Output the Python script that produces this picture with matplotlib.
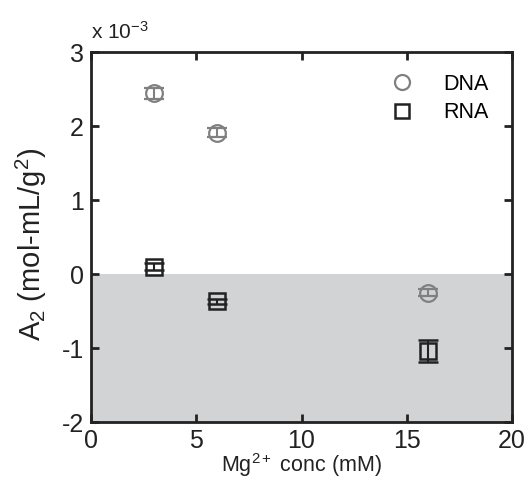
import matplotlib.pyplot as plt
import matplotlib

matplotlib.rcParams['font.family'] = ['Liberation Sans', 'DejaVu Sans']
matplotlib.rcParams['mathtext.fontset'] = 'custom'
matplotlib.rcParams['mathtext.rm'] = 'Liberation Sans'
matplotlib.rcParams['mathtext.it'] = 'Liberation Sans:italic'

# 数据 (A2 单位: 1e-3 mol-mL/g^2)
mg_conc = [3, 6, 16]
dna_a2 = [2.44, 1.91, -0.25]
dna_err = [0.08, 0.06, 0.05]
rna_a2 = [0.10, -0.37, -1.04]
rna_err = [0.05, 0.03, 0.15]

fig = plt.figure(figsize=(5.30, 4.78), dpi=100)
ax = fig.add_axes([91 / 530, 1 - 422 / 478, 421 / 530, 370 / 478])

# 负值区域灰色背景
ax.axhspan(-2, 0, color='#d1d3d4', zorder=0, lw=0)

ax.errorbar(mg_conc, dna_a2, yerr=dna_err, fmt='o', mfc='none', mec='#808080',
            ecolor='#808080', ms=12, mew=1.6, capsize=7, elinewidth=1.5, capthick=1.5,
            label='DNA', zorder=3)
ax.errorbar(mg_conc, rna_a2, yerr=rna_err, fmt='s', mfc='none', mec='#222222',
            ecolor='#222222', ms=11, mew=1.8, capsize=7, elinewidth=1.5, capthick=1.5,
            label='RNA', zorder=3)

ax.set_xlim(0, 20)
ax.set_ylim(-2, 3)
ax.set_xticks([0, 5, 10, 15, 20])
ax.set_yticks([-2, -1, 0, 1, 2, 3])
ax.set_yticklabels(['-2', '-1', '0', '1', '2', '3'])
ax.tick_params(direction='in', length=6, width=2, labelsize=18, pad=5,
               top=True, right=True, colors='#222222', labelcolor='#222222')
for s in ax.spines.values():
    s.set_linewidth(2)
    s.set_color('#222222')

ax.set_xlabel('Mg$^{2+}$ conc (mM)', fontsize=15.5, color='#222222')
ax.xaxis.label.set_va('baseline')
ax.xaxis.set_label_coords(0.5, -0.135)
ax.set_ylabel('$\\mathrm{A}_2$ (mol-mL/g$^2$)', fontsize=21, color='#222222')
ax.yaxis.set_label_coords(-0.10, 0.48)
ax.text(0, 1.025, 'x 10$^{-3}$', transform=ax.transAxes, fontsize=15,
        ha='left', va='bottom', color='#222222')

h, l = ax.get_legend_handles_labels()
h = [hh[0] for hh in h]
ax.legend(h, l, loc='upper right', frameon=False, fontsize=15.5, handletextpad=1.3,
          bbox_to_anchor=(0.99, 0.993), labelspacing=0.35, handlelength=1.2,
          markerscale=0.9)

fig.savefig('out.png', dpi=100)
